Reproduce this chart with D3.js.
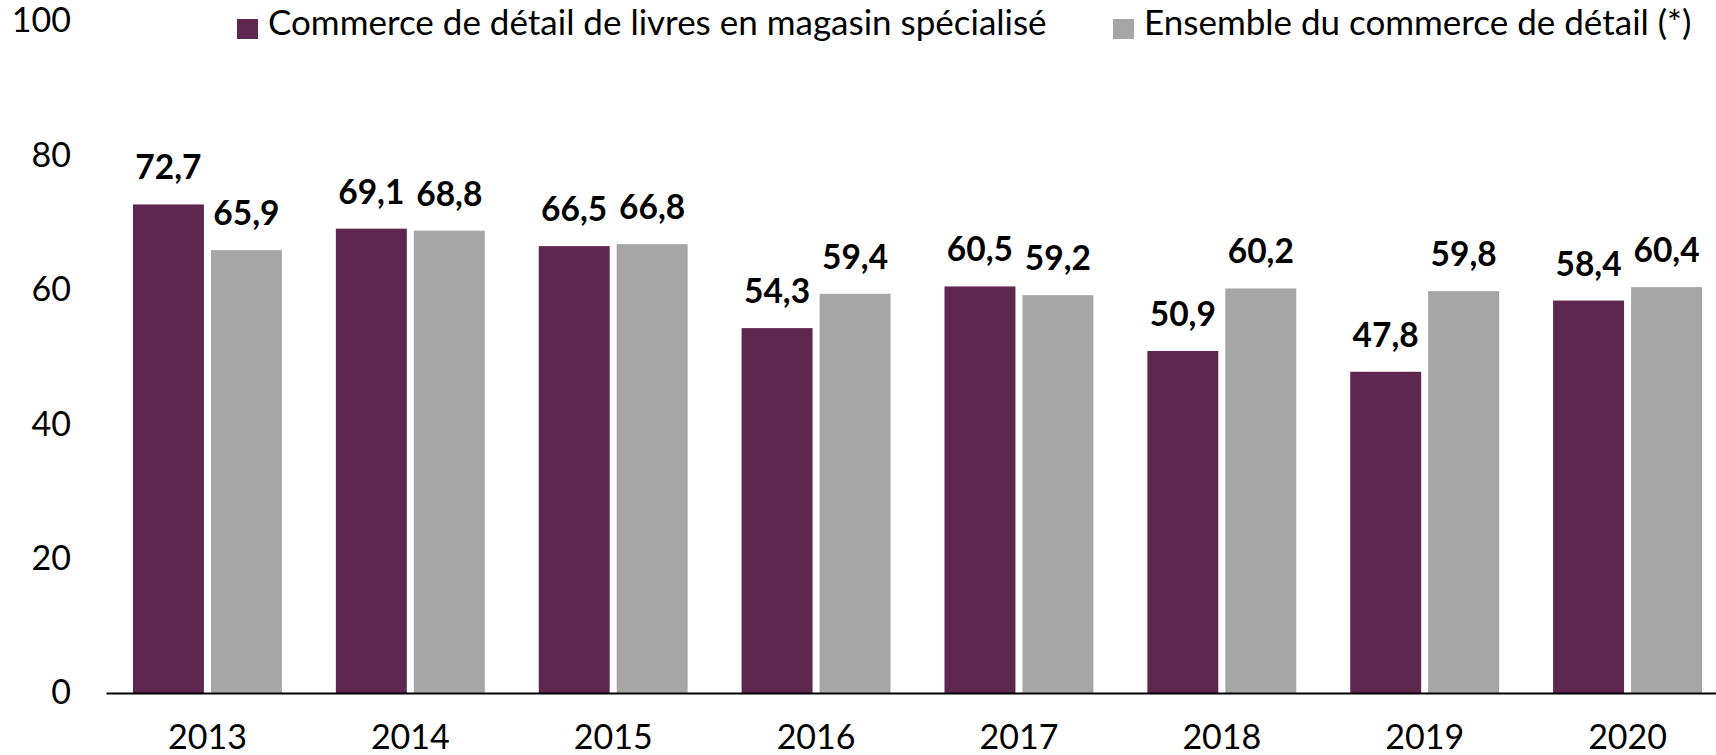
<!DOCTYPE html>
<html>
<head>
<meta charset="utf-8">
<script src="https://cdn.jsdelivr.net/npm/d3@7"></script>
<style>
  body { margin: 0; background: #fff; }
  svg { display: block; font-family: Lato, "Open Sans", sans-serif; }
</style>
</head>
<body>
<svg id="chart" width="1716" height="755"></svg>
<script>

var years = ["2013", "2014", "2015", "2016", "2017", "2018", "2019", "2020"]
var series = ["Commerce de détail de livres en magasin spécialisé", "Ensemble du commerce de détail (*)"]
var livres = [72.7, 69.1, 66.5, 54.3, 60.5, 50.9, 47.8, 58.4]
var ensemble = [65.9, 68.8, 66.8, 59.4, 59.2, 60.2, 59.8, 60.4]
var yTicks = [0, 20, 40, 60, 80, 100]

var colors = ["#5e2750", "#a6a6a6"]

var svg = d3.select("#chart")
var axisFont = 34
var labelFont = 33.5
var legendFont = 35

var x0 = d3.scaleBand()
	.domain(years)
	.range([106, 1729])
	.paddingInner(0.266)
	.paddingOuter(0.133)

var x1 = d3.scaleBand()
	.domain(series)
	.range([0, x0.bandwidth()])
	.paddingInner(0.09)

var y = d3.scaleLinear()
	.domain([0, 100])
	.range([693, 21])

// y axis: labels only
var yAxis = svg.append("g")
	.attr("transform", "translate(71,0)")
	.call(d3.axisLeft(y).tickValues(yTicks).tickSize(0).tickPadding(0))
yAxis.select(".domain").remove()
yAxis.selectAll("text")
	.attr("font-size", axisFont)
	.attr("font-family", "Lato")
	.attr("fill", "#000")

var rows = years.map(function (yr, i) {
	return { year: yr, values: [livres[i], ensemble[i]] }
})

var groups = svg.selectAll(".grp")
	.data(rows)
	.enter()
	.append("g")
	.attr("class", "grp")
	.attr("transform", function (d) { return "translate(" + x0(d.year) + ",0)" })

groups.selectAll("rect")
	.data(function (d) { return d.values.map(function (v, j) { return { s: series[j], v: v, j: j } }) })
	.enter()
	.append("rect")
	.attr("x", function (d) { return x1(d.s) })
	.attr("y", function (d) { return y(d.v) })
	.attr("width", x1.bandwidth())
	.attr("height", function (d) { return y(0) - y(d.v) })
	.attr("fill", function (d) { return colors[d.j] })

groups.selectAll(".lbl")
	.data(function (d) { return d.values.map(function (v, j) { return { s: series[j], v: v } }) })
	.enter()
	.append("text")
	.attr("class", "lbl")
	.attr("x", function (d) { return x1(d.s) + x1.bandwidth() / 2 })
	.attr("y", function (d) { return y(d.v) - 25 })
	.attr("text-anchor", "middle")
	.attr("font-size", labelFont)
	.attr("font-weight", "bold")
	.text(function (d) { return d3.format(".1f")(d.v).replace(".", ",") })

// x axis
var xAxis = svg.append("g")
	.attr("transform", "translate(0," + y(0) + ")")
	.call(d3.axisBottom(x0).tickSize(0).tickPadding(0))
xAxis.select(".domain")
	.attr("stroke", "#000")
	.attr("stroke-width", 2)
xAxis.selectAll("text")
	.attr("font-size", axisFont)
	.attr("font-family", "Lato")
	.attr("fill", "#000")
	.attr("dy", null)
	.attr("y", 56)

// legend
var legendX = [237, 1113]
var legend = svg.selectAll(".leg")
	.data(series)
	.enter()
	.append("g")
	.attr("class", "leg")
	.attr("transform", function (d, i) { return "translate(" + legendX[i] + ",0)" })
legend.append("rect")
	.attr("y", 19)
	.attr("width", 21)
	.attr("height", 20)
	.attr("fill", function (d, i) { return colors[i] })
legend.append("text")
	.attr("x", 31)
	.attr("y", 35)
	.attr("font-size", legendFont)
	.text(function (d) { return d })

</script>
</body>
</html>
